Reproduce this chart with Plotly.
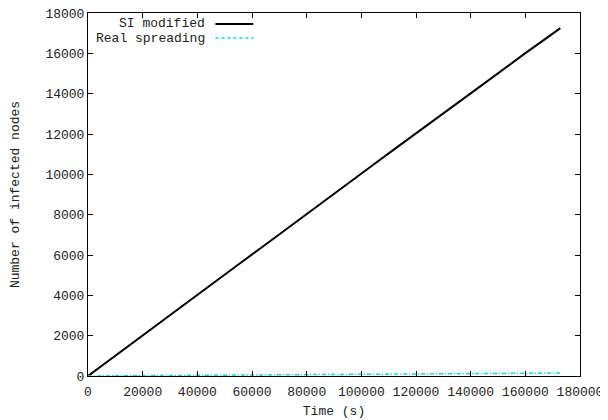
import plotly.graph_objects as go

time_s = [0, 8000, 16000, 24000, 32000, 40000, 48000, 56000, 64000, 72000, 80000,
          88000, 96000, 104000, 112000, 120000, 128000, 136000, 144000, 152000,
          160000, 168000, 172800]
si_modified = [0, 810, 1620, 2420, 3220, 4030, 4820, 5630, 6420, 7230, 8050,
               8840, 9640, 10440, 11240, 12020, 12830, 13620, 14410, 15220,
               16010, 16780, 17250]
real_spreading = [0, 5, 10, 18, 25, 30, 38, 45, 52, 58, 65,
                  72, 80, 86, 92, 100, 106, 112, 120, 128,
                  135, 142, 150]

x_ticks = [0, 20000, 40000, 60000, 80000, 100000, 120000, 140000, 160000, 180000]
y_ticks = [0, 2000, 4000, 6000, 8000, 10000, 12000, 14000, 16000, 18000]

FONT = "Liberation Mono"
FS = 13
TXT = "#222"

fig = go.Figure()
fig.add_trace(go.Scatter(x=time_s, y=si_modified, mode="lines",
                         line=dict(color="black", width=2), name="SI modified",
                         showlegend=False))
fig.add_trace(go.Scatter(x=time_s, y=real_spreading, mode="lines",
                         line=dict(color="#00e0e0", width=1.5, dash="4px,2px,1px,2px"),
                         name="Real spreading", showlegend=False))

axis_common = dict(showgrid=False, zeroline=False, showline=True, linecolor="black",
                   linewidth=1, mirror="ticks", ticks="inside", ticklen=5,
                   tickcolor="black", automargin=False, ticklabeloverflow="allow",
                   tickfont=dict(family=FONT, size=FS, color=TXT))

fig.update_xaxes(range=[0, 180000], tickvals=x_ticks, ticktext=[str(v) for v in x_ticks],
                 ticklabelstandoff=3,
                 title=dict(text="Time (s)", font=dict(family=FONT, size=FS, color=TXT),
                            standoff=7),
                 **axis_common)
fig.update_yaxes(range=[0, 18000], tickvals=y_ticks, ticktext=[str(v) for v in y_ticks],
                 title=dict(text="Number of infected nodes",
                            font=dict(family=FONT, size=FS, color=TXT), standoff=25),
                 **axis_common)

# legend (gnuplot style: text right-aligned, sample to the right)
legend_items = [("SI modified", "black", 2, "solid", 0.97),
                ("Real spreading", "#00e0e0", 1.5, "dot", 0.931)]
for text, color, w, dash, yp in legend_items:
    fig.add_annotation(xref="paper", yref="paper", x=0.242, y=yp, text=text,
                       showarrow=False, xanchor="right", yanchor="middle",
                       font=dict(family=FONT, size=FS, color=TXT))
    fig.add_shape(type="line", xref="paper", yref="paper", x0=0.259, x1=0.336,
                  y0=yp, y1=yp, line=dict(color=color, width=w, dash=dash))

fig.update_layout(width=608, height=420, plot_bgcolor="white", paper_bgcolor="white",
                  margin=dict(l=80, r=36, t=5, b=52, autoexpand=False),
                  font=dict(family=FONT, size=FS))

fig.write_html("out.html")
